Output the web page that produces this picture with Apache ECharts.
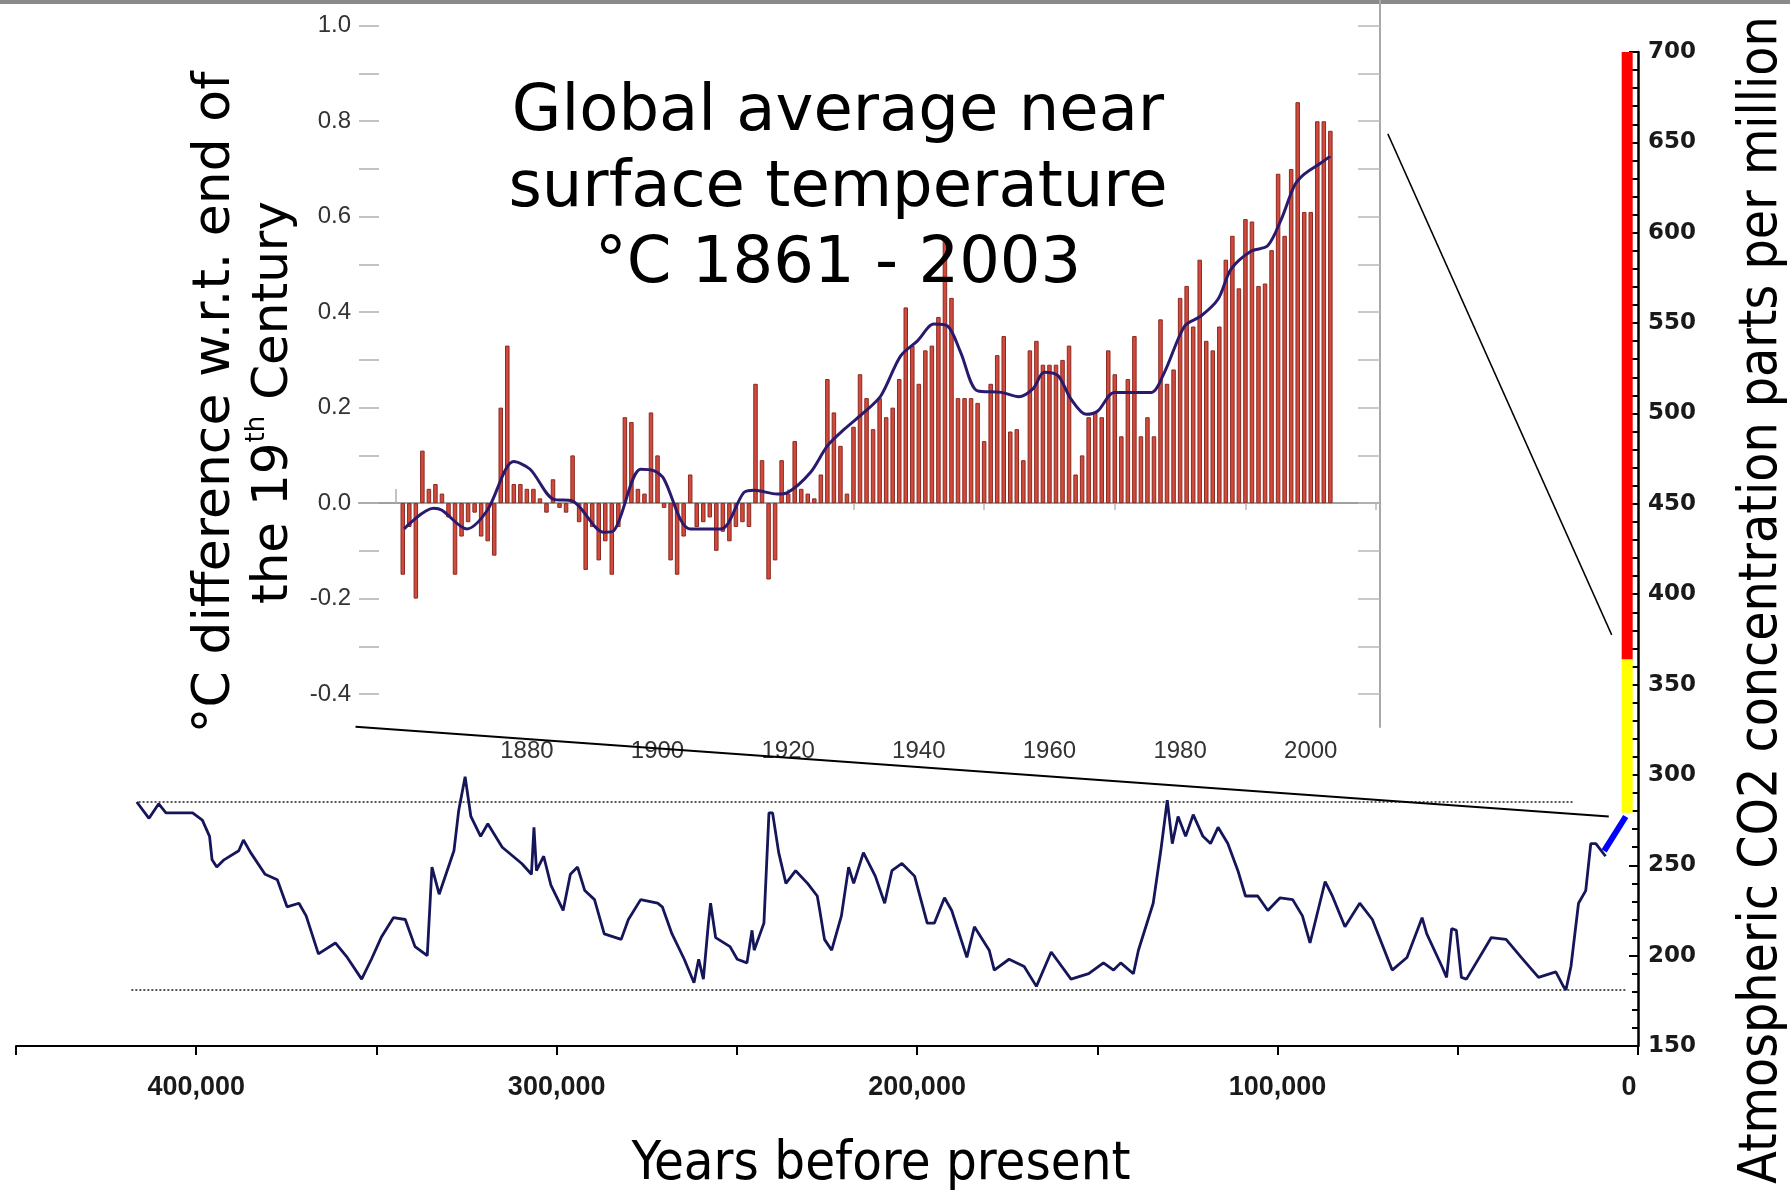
<!DOCTYPE html>
<html><head><meta charset="utf-8">
<script src="https://cdn.jsdelivr.net/npm/echarts@6/dist/echarts.min.js"></script>
<style>html,body{margin:0;padding:0;background:#fff}#c{width:1790px;height:1192px}</style>
</head><body><div id="c"></div>
<script>
// ---- Vostok CO2 record (years before present, ppm) ----
const co2Years = [416500,413100,410400,408400,401000,398300,396300,395600,394300,392300,388200,386900,384900,380900,377500,374800,371500,369500,366100,361400,358100,354100,351400,348700,345300,342000,339300,335900,334600,332600,328500,327200,325400,323800,321100,319100,315100,309700,307000,306300,305600,303600,301600,298200,296200,294200,292200,289500,286800,282100,280100,276700,272000,270700,268000,264600,261900,260600,259300,257900,257300,255900,251900,249900,247200,245800,245200,242500,241100,240100,238400,236400,233700,230400,227700,227000,225700,223700,221000,219000,217600,214900,211600,209000,207000,204200,200700,197200,195200,192400,190400,186200,184100,180000,178600,174500,170300,166900,162800,157300,152400,148300,145500,143500,140000,138600,134500,132400,130600,129200,127600,125500,123400,120700,118600,116500,113800,111000,108900,105500,102700,99300,95800,93100,91000,86800,84800,81300,77200,73700,68200,64100,59900,58600,54400,53100,51700,50400,49000,47600,40700,36600,32400,27600,22800,20700,20000,18600,16500,14500,13100,11700,9000];
const co2Ppm = [285,276,284,279,279,275,266,253,249,253,258,264,257,245,242,227,229,222,201,207,199,187,198,210,221,220,205,200,249,234,258,280,299,277,266,273,260,251,245,271,247,255,239,225,245,249,236,231,212,209,220,231,229,227,212,198,185,198,187,218,229,210,205,198,196,214,203,218,279,279,257,240,247,240,233,225,209,203,222,249,240,257,244,229,247,251,244,218,218,232,225,199,216,203,192,198,194,183,202,187,190,196,192,196,190,203,229,258,286,262,277,266,278,266,262,271,262,247,233,233,225,232,231,222,207,241,233,216,229,220,192,199,221,212,194,188,215,214,188,187,210,209,199,188,191,183,181,194,229,236,262,262,255];
// Holocene / pre-industrial link (blue), industrial rise (yellow), projection (red)
const holoceneYears = [9400, 3400];
const holocenePpm = [258, 277];
const presentYears = 3000;
const industrialPpm = [279, 364];
const projectedPpm = [364, 700];
// dotted reference levels (interglacial max / glacial min)
const refHighPpm = 285, refHighSpan = [416000, 18000];
const refLowPpm = 181, refLowSpan = [418000, 3000];
// zoom connector lines (years BP, ppm)
const connectorA = [[355800, 326.7], [8100, 277]];
const connectorB = [[69400, 654.7], [7300, 377.5]];

// ---- Global temperature 1861-2003 ----
const tempStartYear = 1861;
const tempAnomaly = [
 -0.15,-0.05,-0.20,0.11,0.03,0.04,0.02,-0.03,-0.15,-0.07,
 -0.04,-0.02,-0.07,-0.08,-0.11,0.20,0.33,0.04,0.04,0.03,
 0.03,0.01,-0.02,0.05,-0.01,-0.02,0.10,-0.04,-0.14,-0.05,
 -0.12,-0.08,-0.15,-0.05,0.18,0.17,0.03,0.02,0.19,0.10,
 -0.01,-0.12,-0.15,-0.07,0.06,-0.05,-0.04,-0.03,-0.10,-0.06,
 -0.08,-0.05,-0.04,-0.05,0.25,0.09,-0.16,-0.12,0.09,0.02,
 0.13,0.03,0.02,0.01,0.06,0.26,0.19,0.12,0.02,0.16,
 0.27,0.22,0.155,0.22,0.18,0.20,0.26,0.41,0.33,0.25,
 0.32,0.33,0.39,0.55,0.43,0.22,0.22,0.22,0.21,0.13,
 0.25,0.31,0.35,0.15,0.155,0.09,0.32,0.34,0.29,0.29,
 0.29,0.30,0.33,0.06,0.10,0.18,0.19,0.18,0.32,0.27,
 0.14,0.26,0.35,0.14,0.18,0.14,0.385,0.25,0.28,0.43,
 0.455,0.37,0.51,0.34,0.32,0.37,0.51,0.56,0.45,0.595,
 0.59,0.455,0.46,0.53,0.69,0.56,0.70,0.84,0.61,0.61,
 0.80,0.80,0.78];
const smoothYears = [1861.2,1865.7,1867,1870.8,1873.9,1878,1880.5,1884.1,1886.9,1891.8,1893.3,1897.4,1899.4,1901,1903.5,1905,1909.7,1913.2,1914.8,1918.3,1919.9,1923.4,1926,1928.6,1931.6,1934.2,1937.2,1939.8,1942.3,1944.4,1946.4,1949,1952.6,1955.3,1957.5,1959.2,1961.3,1963.3,1965.6,1967.4,1969.9,1973,1975.6,1977.6,1980.7,1983.2,1985.8,1987.8,1990.9,1993.4,1995.5,1997.5,1999,2001.6,2003];
const smoothVals = [-0.054,-0.011,-0.015,-0.054,-0.016,0.087,0.071,0.008,0.005,-0.061,-0.058,0.071,0.068,0.05,-0.034,-0.054,-0.054,0.022,0.027,0.019,0.022,0.064,0.12,0.155,0.19,0.225,0.308,0.34,0.375,0.371,0.316,0.235,0.232,0.223,0.24,0.274,0.267,0.218,0.186,0.193,0.232,0.232,0.232,0.274,0.371,0.392,0.427,0.49,0.528,0.539,0.595,0.665,0.689,0.713,0.727];
const tempLabelYears = [1880,1900,1920,1940,1960,1980,2000];
const tempMajorTickYears = [1860,1880,1900,1920,1940,1960,1980,2000];
const tempMinorTickYears = [1870,1890,1910,1930,1950,1970,1990,2010];
const tempLabelVals = [-0.4,-0.2,0.0,0.2,0.4,0.6,0.8,1.0];
const tempTickVals = [-0.4,-0.3,-0.2,-0.1,0.0,0.1,0.2,0.3,0.4,0.5,0.6,0.7,0.8,0.9,1.0];

const NARROW = "'DejaVu Sans Condensed','Liberation Sans',sans-serif";
const fmtThousands = v => String(v).replace(/\B(?=(\d{3})+(?!\d))/g, ',');
const zip = (a, b) => a.map((x, i) => [x, b[i]]);

const chart = echarts.init(document.getElementById('c'));
chart.setOption({
  animation: false,
  backgroundColor: '#fff',
  graphic: [{type: 'rect', shape: {x: 0, y: 0, width: 1790, height: 4}, style: {fill: '#8a8a8a'}, silent: true}],
  title: {
    text: 'Global average near\nsurface temperature\n°C 1861 - 2003',
    left: 833, top: 70, textAlign: 'center',
    textStyle: {fontFamily: 'DejaVu Sans', fontSize: 64, fontWeight: 'normal', lineHeight: 76, color: '#000'}
  },
  grid: [
    {left: 16, right: 152, top: 52, bottom: 146, outerBoundsMode: 'none', containLabel: false},
    {left: 359, right: 410, top: 0, bottom: 465, outerBoundsMode: 'none', containLabel: false}
  ],
  xAxis: [
    {gridIndex: 0, type: 'value', min: 0, max: 450000, interval: 50000, inverse: true,
     axisLine: {lineStyle: {color: '#000', width: 2}},
     axisTick: {length: 9, lineStyle: {color: '#000', width: 2}},
     axisLabel: {formatter: v => (v === 0 ? '{z|0}' : (v % 100000 === 0 ? fmtThousands(v) : '')),
                 fontFamily: 'Liberation Sans', fontWeight: 'bold', fontSize: 27, color: '#1a1a1a', margin: 28,
                 rich: {z: {fontFamily: 'Liberation Sans', fontWeight: 'bold', fontSize: 27, color: '#1a1a1a', padding: [0, 18, 0, 0]}}},
     splitLine: {show: false},
     name: 'Years before present', nameLocation: 'middle', nameGap: 92,
     nameTextStyle: {fontFamily: NARROW, fontSize: 54, color: '#000', padding: [0, 0, 0, 108]}},
    {gridIndex: 1, type: 'value', min: 1854.3, max: 2010.6,
     axisLine: {lineStyle: {color: '#a0a0a0', width: 2}},
     axisTick: {inside: true, length: 14, customValues: tempMajorTickYears, lineStyle: {color: '#b0b0b0', width: 1.5}},
     axisLabel: {customValues: tempLabelYears, formatter: v => String(v), fontFamily: 'Liberation Sans', fontSize: 24, color: '#333', margin: 12},
     splitLine: {show: false}},
    {gridIndex: 1, type: 'value', min: 1854.3, max: 2010.6,
     axisLine: {show: false},
     axisTick: {inside: true, length: 7, customValues: tempMinorTickYears, lineStyle: {color: '#b8b8b8', width: 1.5}},
     axisLabel: {show: false}, splitLine: {show: false}}
  ],
  yAxis: [
    {gridIndex: 0, type: 'value', position: 'right', min: 150, max: 700, interval: 50,
     axisLine: {show: true, lineStyle: {color: '#000', width: 2.5}},
     axisTick: {show: true, inside: true, length: 9, lineStyle: {color: '#000', width: 2}},
     minorTick: {show: true, splitNumber: 5, length: 6, lineStyle: {color: '#000', width: 2}},
     axisLabel: {fontFamily: 'DejaVu Sans', fontWeight: 'bold', fontSize: 23, color: '#1a1a1a', margin: 10},
     splitLine: {show: false},
     name: 'Atmospheric CO2 concentration parts per million', nameLocation: 'middle', nameRotate: 90, nameGap: 98,
     nameTextStyle: {fontFamily: NARROW, fontSize: 53, color: '#000', padding: [0, 102, 0, 0]}},
    {gridIndex: 1, type: 'value', min: -0.469, max: 1.054,
     axisLine: {show: false},
     axisTick: {show: true, inside: true, length: 20, customValues: tempTickVals, lineStyle: {color: '#b0b0b0', width: 1.5}},
     axisLabel: {customValues: tempLabelVals, formatter: v => v.toFixed(1), fontFamily: 'Liberation Sans', fontSize: 24, color: '#333', margin: 8},
     splitLine: {show: false},
     name: '{t|°C difference w.r.t. end of}\n{u|the 19}{sup|th}{u| Century}', nameLocation: 'middle', nameRotate: 90, nameGap: 37,
     nameTextStyle: {fontFamily: 'DejaVu Sans', fontSize: 52, color: '#000', padding: [0, 78, 0, 0],
       rich: {t: {fontFamily: 'DejaVu Sans', fontSize: 52, lineHeight: 58, color: '#000'},
              u: {fontFamily: 'DejaVu Sans', fontSize: 50, lineHeight: 58, color: '#000'},
              sup: {fontFamily: 'DejaVu Sans', fontSize: 26, lineHeight: 58, verticalAlign: 'top', color: '#000'}}}},
    {gridIndex: 1, type: 'value', position: 'right', min: -0.469, max: 1.054,
     axisLine: {show: true, lineStyle: {color: '#a8a8a8', width: 2}},
     axisTick: {show: true, inside: true, length: 22, customValues: tempTickVals, lineStyle: {color: '#b8b8b8', width: 1.5}},
     axisLabel: {show: false}, splitLine: {show: false}}
  ],
  series: [
    {type: 'line', xAxisIndex: 0, yAxisIndex: 0, data: [[refHighSpan[0], refHighPpm], [refHighSpan[1], refHighPpm]], symbol: 'none', lineStyle: {color: '#555', width: 2, type: 'dotted'}, z: 2},
    {type: 'line', xAxisIndex: 0, yAxisIndex: 0, data: [[refLowSpan[0], refLowPpm], [refLowSpan[1], refLowPpm]], symbol: 'none', lineStyle: {color: '#555', width: 2, type: 'dotted'}, z: 2},
    {type: 'line', xAxisIndex: 0, yAxisIndex: 0, data: zip(co2Years, co2Ppm), symbol: 'none', lineStyle: {color: '#15155a', width: 2.8}, z: 3},
    {type: 'line', xAxisIndex: 0, yAxisIndex: 0, data: zip(holoceneYears, holocenePpm), symbol: 'none', lineStyle: {color: '#0000ff', width: 6}, z: 4},
    {type: 'line', xAxisIndex: 0, yAxisIndex: 0, data: industrialPpm.map(p => [presentYears, p]), symbol: 'none', lineStyle: {color: '#ffff00', width: 11, cap: 'butt'}, z: 4},
    {type: 'line', xAxisIndex: 0, yAxisIndex: 0, data: projectedPpm.map(p => [presentYears, p]), symbol: 'none', lineStyle: {color: '#ff0000', width: 11, cap: 'butt'}, z: 4},
    {type: 'line', xAxisIndex: 0, yAxisIndex: 0, data: connectorA, symbol: 'none', lineStyle: {color: '#000', width: 2}, z: 10},
    {type: 'line', xAxisIndex: 0, yAxisIndex: 0, data: connectorB, symbol: 'none', lineStyle: {color: '#000', width: 1.5}, z: 10},
    {type: 'bar', xAxisIndex: 1, yAxisIndex: 1, data: tempAnomaly.map((v, i) => [tempStartYear + i, v]), barWidth: 4.5,
     itemStyle: {color: '#d24a3c', borderColor: '#8a2a22', borderWidth: 1}, z: 3},
    {type: 'line', xAxisIndex: 1, yAxisIndex: 1, data: zip(smoothYears, smoothVals), smooth: 0.3, symbol: 'none', lineStyle: {color: '#2a1a6e', width: 3}, z: 5}
  ]
});
</script>
</body></html>
